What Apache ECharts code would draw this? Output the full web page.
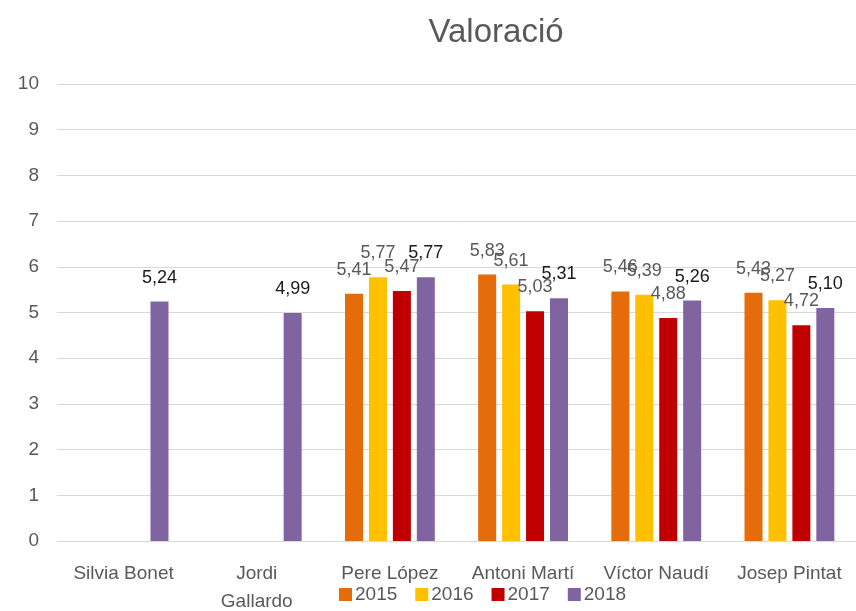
<!DOCTYPE html>
<html>
<head>
<meta charset="utf-8">
<script src="https://cdn.jsdelivr.net/npm/echarts@6/dist/echarts.min.js"></script>
<style>html,body{margin:0;padding:0;background:#fff;}#c{width:856px;height:611px;}</style>
</head>
<body>
<div id="c"></div>
<script>
const categories = ['Silvia Bonet', 'Jordi Gallardo', 'Pere López', 'Antoni Martí', 'Víctor Naudí', 'Josep Pintat'];
const years = ['2015', '2016', '2017', '2018'];
const v2015 = [null, null, 5.41, 5.83, 5.46, 5.43];
const v2016 = [null, null, 5.77, 5.61, 5.39, 5.27];
const v2017 = [null, null, 5.47, 5.03, 4.88, 4.72];
const v2018 = [5.24, 4.99, 5.77, 5.31, 5.26, 5.10];
const yTicks = [0, 1, 2, 3, 4, 5, 6, 7, 8, 9, 10];

const FONT = "'Liberation Sans', sans-serif";
const colors = ['#E46C0A', '#FFC000', '#C00000', '#8064A2'];
const labelColors = ['#595959', '#595959', '#595959', '#1a1a1a'];
const values = [v2015, v2016, v2017, v2018];

const chart = echarts.init(document.getElementById('c'));
chart.setOption({
  animation: false,
  title: {
    text: 'Valoració', left: 491, top: 11, textAlign: 'center',
    textStyle: { fontFamily: FONT, fontSize: 33, fontWeight: 'normal', color: '#595959' }
  },
  legend: {
    data: years, left: 334, top: 580, itemWidth: 13, itemHeight: 13, itemGap: 18,
    icon: 'rect',
    textStyle: { fontFamily: FONT, fontSize: 19, color: '#595959', padding: [0, 0, 0, -2] }
  },
  grid: { left: 57, right: 0, top: 84, bottom: 70, containLabel: false, outerBoundsMode: 'none' },
  xAxis: {
    type: 'category', data: categories,
    axisLine: { show: false }, axisTick: { show: false },
    axisLabel: {
      fontFamily: FONT, fontSize: 19, color: '#595959', margin: 19, lineHeight: 28, interval: 0,
      formatter: v => v.length > 13 ? v.replace(' ', '\n') : v
    }
  },
  yAxis: {
    type: 'value', min: yTicks[0], max: yTicks[yTicks.length - 1], interval: 1,
    axisLine: { show: false }, axisTick: { show: false },
    axisLabel: { fontFamily: FONT, fontSize: 19, color: '#595959', margin: 18 },
    splitLine: { lineStyle: { color: '#d9d9d9', width: 1 } }
  },
  series: years.map((y, i) => ({
    name: y, type: 'bar', data: values[i],
    barWidth: 18, barGap: '33%',
    itemStyle: { color: colors[i] },
    label: {
      show: true, position: 'top', distance: 15,
      fontFamily: FONT, fontSize: 18, color: labelColors[i],
      formatter: p => p.value == null ? '' : p.value.toFixed(2).replace('.', ',')
    }
  }))
});
</script>
</body>
</html>
